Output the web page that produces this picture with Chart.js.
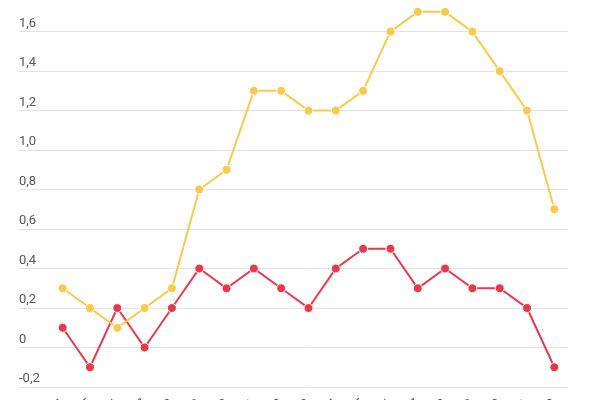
<!DOCTYPE html>
<html lang="en">
<head>
    <meta charset="UTF-8">
    <title>Line chart</title>
    <script src="https://cdn.jsdelivr.net/npm/chart.js"></script>
    <style>
        html, body { margin: 0; padding: 0; overflow: hidden; background: #fff; }
        #wrap { width: 600px; height: 460px; }
    </style>
</head>
<body>
    <div id="wrap"><canvas id="lineChart"></canvas></div>

    <script>
        // Categories (x labels are mostly cut off at the bottom of the picture)
        const labels = ['2004', '2005', '2006', '2007', '2008', '2009', '2010', '2011', '2012', '2013',
                        '2014', '2015', '2016', '2017', '2018', '2019', '2020', '2021', '2022'];

        // Series values
        const yellowValues = [0.3, 0.2, 0.1, 0.2, 0.3, 0.8, 0.9, 1.3, 1.3, 1.2, 1.2, 1.3, 1.6, 1.7, 1.7, 1.6, 1.4, 1.2, 0.7];
        const redValues = [0.1, -0.1, 0.2, 0.0, 0.2, 0.4, 0.3, 0.4, 0.3, 0.2, 0.4, 0.5, 0.5, 0.3, 0.4, 0.3, 0.3, 0.2, -0.1];

        // Y tick values
        const yTicks = [-0.2, 0, 0.2, 0.4, 0.6, 0.8, 1.0, 1.2, 1.4, 1.6];

        const yellow = '#f6ca4c';
        const red = '#e8394b';

        Chart.defaults.font.family = 'Roboto, "Noto Sans", sans-serif';

        new Chart(document.getElementById('lineChart'), {
            type: 'line',
            data: {
                labels: labels,
                datasets: [
                    {
                        data: yellowValues,
                        borderColor: yellow,
                        backgroundColor: yellow,
                        borderWidth: 2,
                        pointRadius: 4.5,
                        pointBorderColor: '#fff',
                        pointBorderWidth: 1,
                        tension: 0
                    },
                    {
                        data: redValues,
                        borderColor: red,
                        backgroundColor: red,
                        borderWidth: 2,
                        pointRadius: 4.5,
                        pointBorderColor: '#fff',
                        pointBorderWidth: 1,
                        tension: 0
                    }
                ]
            },
            options: {
                responsive: true,
                maintainAspectRatio: false,
                animation: false,
                layout: {
                    autoPadding: false,
                    padding: { left: 19, right: 32, top: 0, bottom: 0 }
                },
                plugins: {
                    legend: { display: false },
                    tooltip: { enabled: false }
                },
                scales: {
                    x: {
                        offset: true,
                        grid: { display: false, drawTicks: false },
                        border: { display: false },
                        ticks: {
                            color: '#555',
                            font: { size: 13 },
                            minRotation: 45,
                            maxRotation: 45,
                            padding: 9,
                            autoSkip: false
                        },
                        afterFit: scale => { scale.height = 73; }
                    },
                    y: {
                        min: -0.2,
                        max: 1.76,
                        grid: { color: '#e2e2e2', lineWidth: 1, tickLength: 30 },
                        border: { display: false },
                        ticks: {
                            color: '#555',
                            font: { size: 13 },
                            crossAlign: 'far',
                            padding: 0,
                            labelOffset: -8,
                            callback: v => v === 0 ? '0' : v.toFixed(1).replace('.', ',')
                        },
                        afterBuildTicks: scale => {
                            scale.ticks = yTicks.map(v => ({ value: v }));
                        },
                        afterFit: scale => {
                            scale.width = 30;
                            scale.paddingTop = 0;
                            scale.paddingBottom = 0;
                        }
                    }
                }
            }
        });
    </script>
</body>
</html>
